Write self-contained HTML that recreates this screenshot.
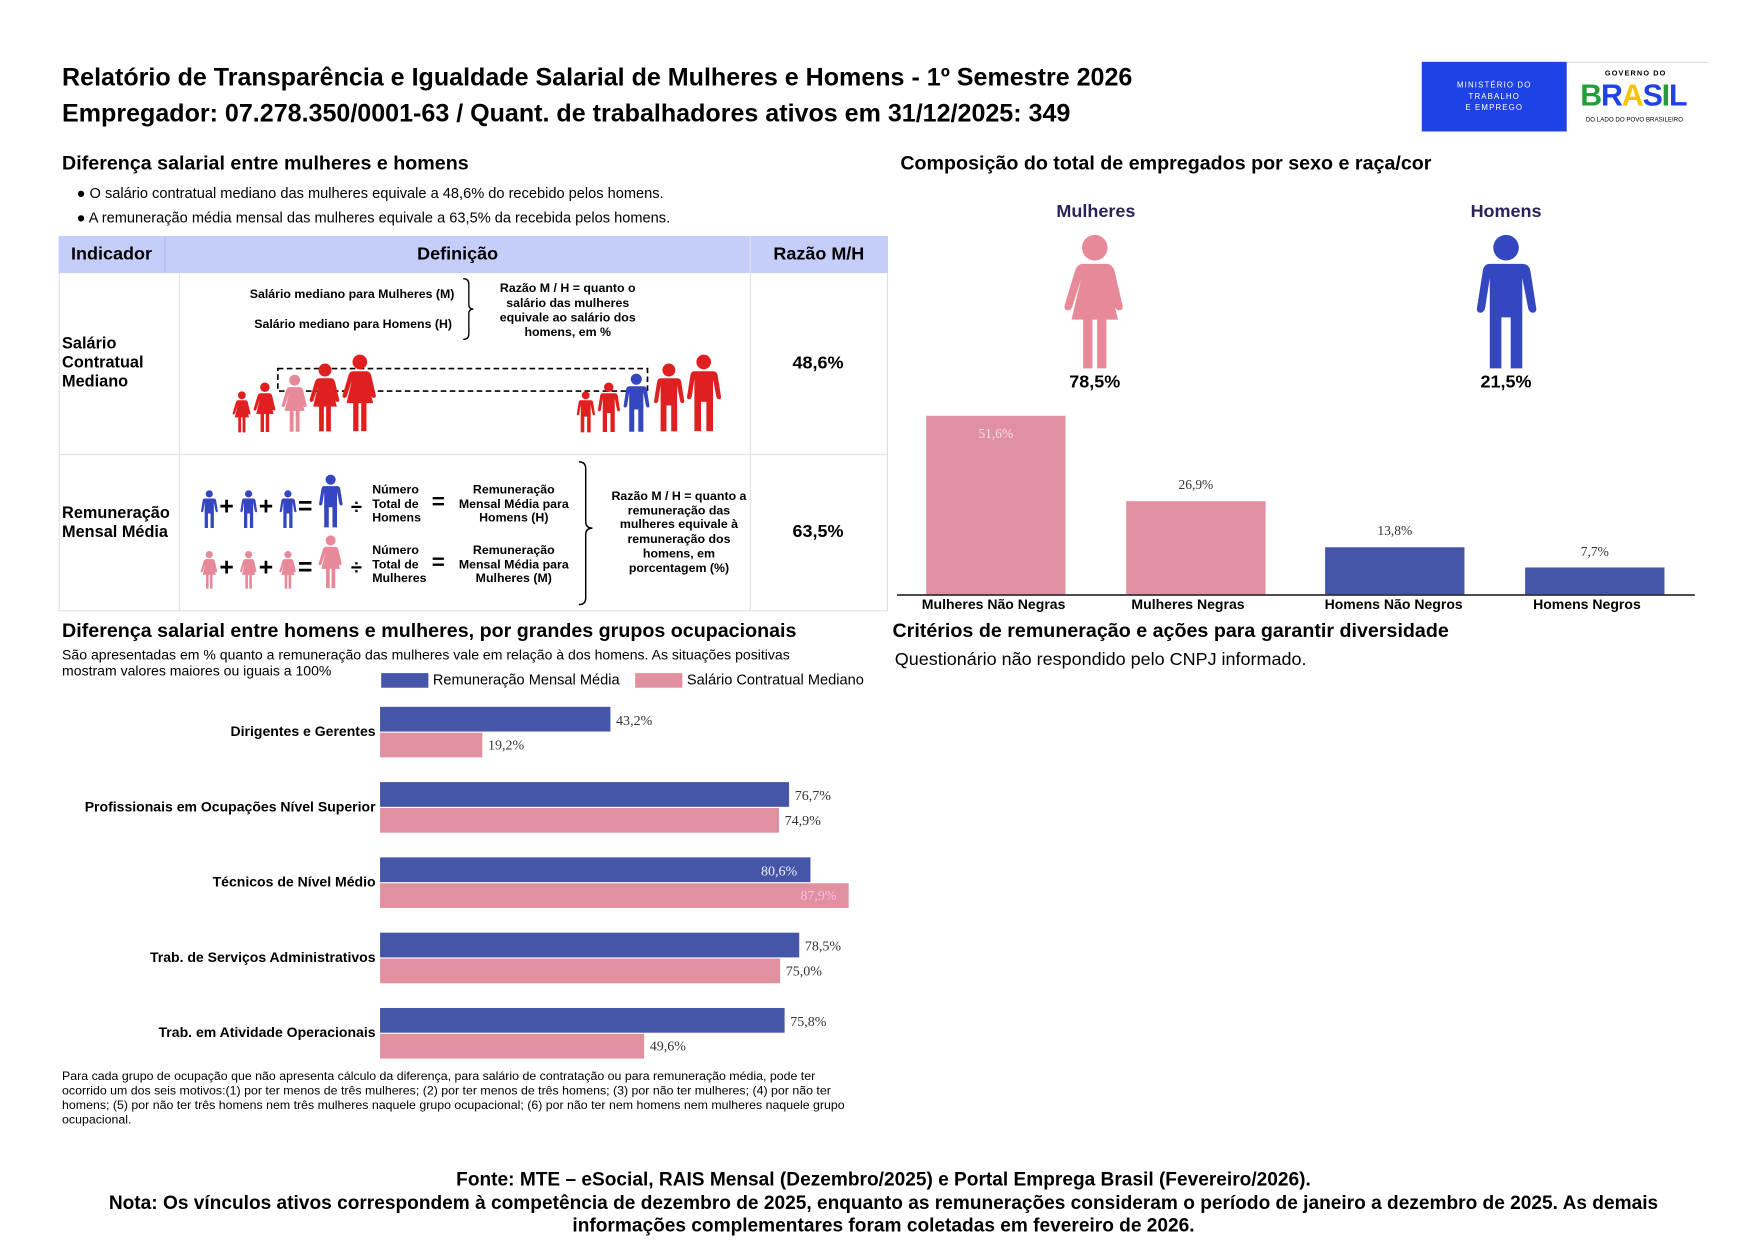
<!DOCTYPE html>
<html><head><meta charset="utf-8"><style>
*{margin:0;padding:0;box-sizing:border-box}
html,body{width:1753px;height:1240px;overflow:hidden;background:#fff}
#w{position:absolute;left:-2px;top:0;width:1560px;height:1104px;transform:scale(1.12372);transform-origin:0 0;font-family:"Liberation Sans",Arial,sans-serif;color:#000}
.a{position:absolute;white-space:nowrap}
.b{font-weight:bold}
.h{font-size:17.5px;font-weight:bold}
.c{text-align:center}
</style></head><body><div id="w">
<svg width="0" height="0" style="position:absolute">
<defs>
<symbol id="man" viewBox="-1 0 26 60"><circle cx="12" cy="6" r="5.5"/><path d="M5,13h14q3,0 3.5,3l2.5,16q.3,2-1.5,2q-1.5,0-2-2L19,19V58h-5V36h-4V58H5V19L3,32q-.5,2-2,2q-1.8,0-1.5-2L2,16q.5-3 3-3z"/></symbol>
<symbol id="wom" viewBox="-1 0 26 60"><circle cx="12" cy="6" r="5.5"/><path d="M7,13h10q2.5,0 3.5,3l3.5,15q.3,2-1.5,2q-1.3,0-1.8-1.5L18,20l4,17h-5V58h-4V37h-2V58H7V37H2l4-17-3.7,11.5q-.5,1.5-1.8,1.5q-1.8,0-1.5-2L3.5,16q1-3 3.5-3z"/></symbol>
</defs></svg>

<div class="a b" style="left:57px;top:56px;font-size:22.3px">Relatório de Transparência e Igualdade Salarial de Mulheres e Homens - 1º Semestre 2026</div>
<div class="a b" style="left:57px;top:88px;font-size:22.3px">Empregador: 07.278.350/0001-63 / Quant. de trabalhadores ativos em 31/12/2025: 349</div>
<div class="a" style="left:1267px;top:55px;width:129px;height:62px;background:#1f42e6;color:#fff;font-size:7px;line-height:10px;text-align:center;padding-top:17px;letter-spacing:1px">MINISTÉRIO DO<br>TRABALHO<br>E EMPREGO</div>
<div class="a" style="left:1396px;top:55px;width:126px;height:62px;border-top:1px solid #ddd"></div>
<div class="a b" style="left:1430px;top:62px;font-size:6.5px;letter-spacing:1px">GOVERNO DO</div>
<div class="a b" style="left:1408px;top:70px;font-size:27px;letter-spacing:-1px;line-height:30px"><span style="color:#1f9e3a">B</span><span style="color:#1f42e6">R</span><span style="color:#f6c300">A</span><span style="color:#1f42e6">S</span><span style="color:#1f9e3a">I</span><span style="color:#1f42e6">L</span></div>
<div class="a" style="left:1413px;top:104px;font-size:5.5px">DO LADO DO POVO BRASILEIRO</div>

<div class="a h" style="left:57px;top:135px">Diferença salarial entre mulheres e homens</div>
<div class="a" style="left:70px;top:164px;font-size:13px">● O salário contratual mediano das mulheres equivale a 48,6% do recebido pelos homens.</div>
<div class="a" style="left:70px;top:186px;font-size:13px">● A remuneração média mensal das mulheres equivale a 63,5% da recebida pelos homens.</div>

<div class="a" style="left:54px;top:210px;width:738px;height:334px;border:1px solid #e0e0e0"></div>
<div class="a" style="left:54px;top:210px;width:738px;height:33px;background:#c5cdfa"></div>
<div class="a" style="left:148px;top:210px;width:1px;height:33px;background:#b5bdf0"></div>
<div class="a" style="left:669px;top:210px;width:1px;height:334px;background:#e0e0e0"></div>
<div class="a" style="left:161px;top:243px;width:1px;height:301px;background:#e0e0e0"></div>
<div class="a" style="left:54px;top:404px;width:738px;height:1px;background:#e0e0e0"></div>
<div class="a b" style="left:65px;top:218px;font-size:16px">Indicador</div>
<div class="a b" style="left:373px;top:218px;font-size:16px">Definição</div>
<div class="a b" style="left:690px;top:218px;font-size:16px">Razão M/H</div>
<div class="a b" style="left:57px;top:298px;font-size:14.5px;line-height:17px">Salário<br>Contratual<br>Mediano</div>
<div class="a b" style="left:57px;top:449px;font-size:14.5px;line-height:17px">Remuneração<br>Mensal Média</div>
<div class="a b" style="left:707px;top:315px;font-size:16px">48,6%</div>
<div class="a b" style="left:707px;top:465px;font-size:16px">63,5%</div>
<div class="a b" style="left:224px;top:256px;font-size:11px">Salário mediano para Mulheres (M)</div>
<div class="a b" style="left:228px;top:283px;font-size:11px">Salário mediano para Homens (H)</div>
<svg class="a" style="left:410px;top:245px" width="20" height="65"><path d="M4,3q5,0 5,5v18q0,4 4,4q-4,0-4,4v18q0,5-5,5" fill="none" stroke="#000" stroke-width="1.2"/></svg>
<div class="a b c" style="left:440px;top:251px;width:134px;font-size:11px;line-height:13px;white-space:normal">Razão M / H = quanto o salário das mulheres equivale ao salário dos homens, em %</div>
<svg class="a" style="left:200px;top:310px" width="460" height="80">
<rect x="49" y="18" width="329" height="20" fill="none" stroke="#000" stroke-width="1.5" stroke-dasharray="5,3"/>
<g fill="#e02020">
<use href="#wom" x="6" y="38" width="22" height="38"/>
<use href="#wom" x="24" y="30" width="27" height="46"/>
<use href="#wom" x="48" y="23" width="32" height="53" fill="#e8899a"/>
<use href="#wom" x="73" y="13" width="36" height="63"/>
<use href="#wom" x="102" y="5" width="40" height="71"/>
<use href="#man" x="313" y="38" width="20" height="38"/>
<use href="#man" x="331" y="30" width="25" height="46"/>
<use href="#man" x="353" y="22" width="30" height="54" fill="#3446c0"/>
<use href="#man" x="380" y="13" width="34" height="63"/>
<use href="#man" x="408" y="5" width="40" height="71"/>
</g></svg>
<svg class="a" style="left:175px;top:420px" width="160" height="110">
<g fill="#3446c0"><use href="#man" x="2" y="16" width="22" height="35"/><use href="#man" x="37" y="16" width="22" height="35"/><use href="#man" x="72" y="16" width="22" height="35"/><use href="#man" x="106" y="2" width="30" height="49"/></g>
<g fill="#e8899a"><use href="#wom" x="2" y="70" width="22" height="35"/><use href="#wom" x="37" y="70" width="22" height="35"/><use href="#wom" x="72" y="70" width="22" height="35"/><use href="#wom" x="106" y="56" width="30" height="49"/></g>
<g font-family="Liberation Sans" font-weight="bold" font-size="22"><text x="22" y="38">+</text><text x="57" y="38">+</text><text x="92" y="38">=</text><text x="22" y="92">+</text><text x="57" y="92">+</text><text x="92" y="92">=</text><text x="139" y="37" font-size="18">÷</text><text x="139" y="91" font-size="18">÷</text></g>
</svg>
<div class="a b" style="left:333px;top:430px;font-size:11px;line-height:12.5px">Número<br>Total de<br>Homens</div>
<div class="a b" style="left:333px;top:484px;font-size:11px;line-height:12.5px">Número<br>Total de<br>Mulheres</div>
<div class="a b" style="left:386px;top:436px;font-size:20px">=</div>
<div class="a b" style="left:386px;top:490px;font-size:20px">=</div>
<div class="a b c" style="left:405px;top:430px;width:108px;font-size:11px;line-height:12.5px">Remuneração<br>Mensal Média para<br>Homens (H)</div>
<div class="a b c" style="left:405px;top:484px;width:108px;font-size:11px;line-height:12.5px">Remuneração<br>Mensal Média para<br>Mulheres (M)</div>
<svg class="a" style="left:512px;top:408px" width="25" height="132"><path d="M5,3q6,0 6,6v47q0,6 6,6q-6,0-6,6v56q0,6-6,6" fill="none" stroke="#000" stroke-width="1.3"/></svg>
<div class="a b c" style="left:544px;top:436px;width:124px;font-size:11px;line-height:12.7px;white-space:normal">Razão M / H = quanto a remuneração das mulheres equivale à remuneração dos homens, em porcentagem (%)</div>

<div class="a h" style="left:803px;top:135px">Composição do total de empregados por sexo e raça/cor</div>
<div class="a b c" style="left:917px;top:180px;width:120px;font-size:16px;color:#2a2458">Mulheres</div>
<div class="a b c" style="left:1282px;top:180px;width:120px;font-size:16px;color:#2a2458">Homens</div>
<svg class="a" style="left:935px;top:208px" width="82" height="124"><use href="#wom" x="0" y="0" width="82" height="124" fill="#e8899a"/></svg>
<svg class="a" style="left:1301px;top:208px" width="82" height="124"><use href="#man" x="0" y="0" width="82" height="124" fill="#3446c0"/></svg>
<div class="a b c" style="left:936px;top:332px;width:80px;font-size:16px">78,5%</div>
<div class="a b c" style="left:1302px;top:332px;width:80px;font-size:16px">21,5%</div>
<svg class="a" style="left:795px;top:360px" width="720" height="175" font-family="Liberation Serif" font-size="12">
<rect x="31" y="10" width="124" height="159" fill="#e0909e"/>
<rect x="209" y="86" width="124" height="83" fill="#e0909e"/>
<rect x="386" y="127" width="124" height="42" fill="#4555a8"/>
<rect x="564" y="145" width="124" height="24" fill="#4555a8"/>
<line x1="5" y1="169.5" x2="715" y2="169.5" stroke="#333" stroke-width="1.5"/>
<text x="93" y="30" text-anchor="middle" fill="#f4e0e4">51,6%</text>
<text x="271" y="75" text-anchor="middle" fill="#333">26,9%</text>
<text x="448" y="116" text-anchor="middle" fill="#333">13,8%</text>
<text x="626" y="135" text-anchor="middle" fill="#333">7,7%</text>
</svg>
<div class="a b c" style="left:806px;top:531px;width:160px;font-size:12.5px">Mulheres Não Negras</div>
<div class="a b c" style="left:979px;top:531px;width:160px;font-size:12.5px">Mulheres Negras</div>
<div class="a b c" style="left:1162px;top:531px;width:160px;font-size:12.5px">Homens Não Negros</div>
<div class="a b c" style="left:1334px;top:531px;width:160px;font-size:12.5px">Homens Negros</div>

<div class="a h" style="left:796px;top:551px">Critérios de remuneração e ações para garantir diversidade</div>
<div class="a" style="left:798px;top:579px;font-size:16px">Questionário não respondido pelo CNPJ informado.</div>

<div class="a h" style="left:57px;top:551px">Diferença salarial entre homens e mulheres, por grandes grupos ocupacionais</div>
<div class="a" style="left:57px;top:576px;font-size:12.5px;line-height:14px">São apresentadas em % quanto a remuneração das mulheres vale em relação à dos homens. As situações positivas<br>mostram valores maiores ou iguais a 100%</div>
<div class="a" style="left:341px;top:599px;width:42px;height:13px;background:#4555a8"></div>
<div class="a" style="left:387px;top:597px;font-size:13px">Remuneração Mensal Média</div>
<div class="a" style="left:567px;top:599px;width:42px;height:13px;background:#e0909e"></div>
<div class="a" style="left:613px;top:597px;font-size:13px">Salário Contratual Mediano</div>
<svg class="a" style="left:0;top:620px" width="800" height="330" font-family="Liberation Serif" font-size="12.5">
<g font-family="Liberation Sans" font-weight="bold" font-size="12.5" text-anchor="end">
<text x="336" y="35">Dirigentes e Gerentes</text>
<text x="336" y="102">Profissionais em Ocupações Nível Superior</text>
<text x="336" y="169">Técnicos de Nível Médio</text>
<text x="336" y="236">Trab. de Serviços Administrativos</text>
<text x="336" y="303">Trab. em Atividade Operacionais</text>
</g>
<g fill="#4555a8">
<rect x="340" y="9" width="205" height="22"/><rect x="340" y="76" width="364" height="22"/><rect x="340" y="143" width="383" height="22"/><rect x="340" y="210" width="373" height="22"/><rect x="340" y="277" width="360" height="22"/>
</g>
<g fill="#e0909e">
<rect x="340" y="32" width="91" height="22"/><rect x="340" y="99" width="355" height="22"/><rect x="340" y="166" width="417" height="22"/><rect x="340" y="233" width="356" height="22"/><rect x="340" y="300" width="235" height="22"/>
</g>
<g fill="#333">
<text x="550" y="25">43,2%</text><text x="436" y="47">19,2%</text>
<text x="709" y="92">76,7%</text><text x="700" y="114">74,9%</text>
<text x="679" y="159" fill="#eef">80,6%</text><text x="714" y="181" fill="#fbe">87,9%</text>
<text x="718" y="226">78,5%</text><text x="701" y="248">75,0%</text>
<text x="705" y="293">75,8%</text><text x="580" y="315">49,6%</text>
</g></svg>
<div class="a" style="left:57px;top:952px;width:700px;font-size:11px;line-height:13px;white-space:normal">Para cada grupo de ocupação que não apresenta cálculo da diferença, para salário de contratação ou para remuneração média, pode ter ocorrido um dos seis motivos:(1) por ter menos de três mulheres; (2) por ter menos de três homens; (3) por não ter mulheres; (4) por não ter homens; (5) por não ter três homens nem três mulheres naquele grupo ocupacional; (6) por não ter nem homens nem mulheres naquele grupo ocupacional.</div>

<div class="a b c" style="left:0;top:1040px;width:1576px;font-size:17px;line-height:20.5px;white-space:normal;padding:0 60px">Fonte: MTE – eSocial, RAIS Mensal (Dezembro/2025) e Portal Emprega Brasil (Fevereiro/2026).<br>Nota: Os vínculos ativos correspondem à competência de dezembro de 2025, enquanto as remunerações consideram o período de janeiro a dezembro de 2025. As demais informações complementares foram coletadas em fevereiro de 2026.</div>
</div></body></html>
